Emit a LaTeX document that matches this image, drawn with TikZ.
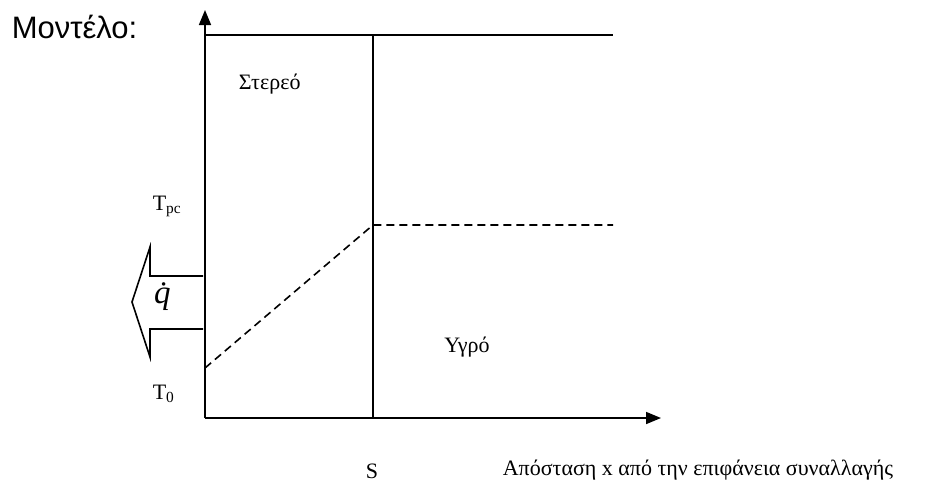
\documentclass[tikz,border=0pt]{standalone}
\usepackage{fontspec}
\setmainfont{Liberation Serif}
\newfontfamily\labelfont{Liberation Sans}
\usetikzlibrary{arrows.meta,positioning}

\begin{document}
\begin{tikzpicture}[x=1pt,y=-1pt,>={Triangle[length=15pt,width=12pt]},
  every path/.style={line width=1.6pt},
  lbl/.style={inner sep=0pt,font=\fontsize{22}{24}\selectfont}]
\useasboundingbox (0,0) rectangle (941,479);
% axes and frame
\coordinate (O) at (205,418);
\coordinate (Ytop) at (205,10);
\coordinate (Xend) at (661,418);
\coordinate (TL) at (205,35);
\coordinate (TR) at (613,35);
\coordinate (Sb) at (373,418);
\coordinate (St) at (373,35);
\draw[->] (O)--(Ytop);
\draw[->] (O)--(Xend);
\draw (TL)--(TR);
\draw (Sb)--(St);
% temperature profile
\coordinate (P0) at (205,368);
\coordinate (Ps) at (373,225);
\coordinate (Pe) at (613,225);
\draw[dashed,dash pattern=on 8pt off 5pt] (P0)--(Ps)--(Pe);
% heat flux arrow
\draw (203,276)--(150,276)--(150,247)--(132,302)--(150,357)--(150,329)--(203,329);
\node[inner sep=0pt,font=\fontsize{33}{35}\selectfont] (q) at (167,297) {\textit{\.q}};
% labels
\node[anchor=west,inner sep=0pt,font=\labelfont\fontsize{31}{33}\selectfont] (model) at (11,27) {Μοντέλο:};
\node[lbl,anchor=west] (solid) at (238,84) {Στερεό};
\node[lbl] (liquid) at (467,347) {Υγρό};
\node[lbl,anchor=west] (Tpc) at (152,206) {T\textsubscript{pc}};
\node[lbl,anchor=west] (T0) at (152,394) {T\textsubscript{0}};
\node[lbl] (S) at (372,471) {S};
\node[lbl,anchor=west] (dist) at (502,470) {Απόσταση x από την επιφάνεια συναλλαγής};
\end{tikzpicture}
\end{document}
